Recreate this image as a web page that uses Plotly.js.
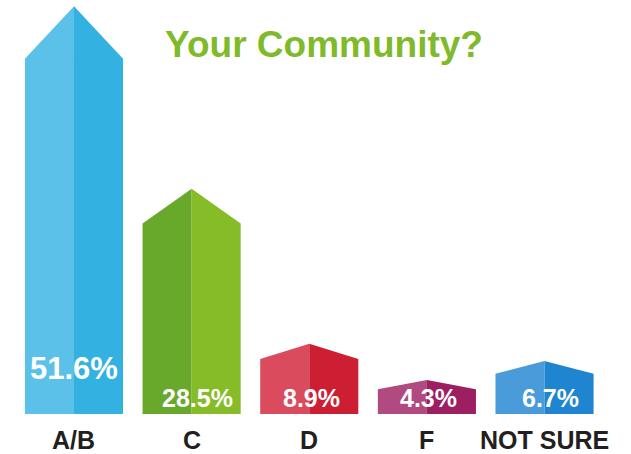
<!DOCTYPE html>
<html>
<head>
<meta charset="utf-8">
<script src="https://cdn.plot.ly/plotly-3.0.1.min.js"></script>
<style>html,body{margin:0;padding:0;background:#fff}#chart{width:631px;height:454px}</style>
</head>
<body>
<div id="chart"></div>
<script>
// ---- data ----
const categories = ['A/B', 'C', 'D', 'F', 'NOT SURE'];
const values = [51.6, 28.5, 8.9, 4.3, 6.7];
const valueLabels = ['51.6%', '28.5%', '8.9%', '4.3%', '6.7%'];
const leftColors = ['#5bc1e9', '#68a92b', '#d94b5d', '#b04a81', '#4a9bd9'];
const rightColors = ['#33b1e1', '#86bc28', '#cc1f34', '#9c1f61', '#1f85d1'];

// ---- build house-shaped bars ----
const hw = 0.417;
const traces = [];
values.forEach((v, i) => {
  const roof = 0.42 * Math.pow(v, 0.7);
  const sh = v - roof;
  traces.push({
    type: 'scatter', mode: 'lines', fill: 'toself', hoverinfo: 'skip',
    x: [i - hw, i - hw, i, i, i - hw],
    y: [0, sh, v, 0, 0],
    fillcolor: leftColors[i], line: {width: 0, color: leftColors[i]}
  });
  traces.push({
    type: 'scatter', mode: 'lines', fill: 'toself', hoverinfo: 'skip',
    x: [i, i, i + hw, i + hw, i],
    y: [0, v, sh, 0, 0],
    fillcolor: rightColors[i], line: {width: 0, color: rightColors[i]}
  });
});

const annotations = [];
values.forEach((v, i) => {
  const big = v > 40;
  annotations.push({
    x: i, y: 0, xref: 'x', yref: 'y', showarrow: false,
    text: '<b>' + valueLabels[i] + '</b>',
    font: {family: 'Liberation Sans, Arial, sans-serif', size: big ? 31 : 25, color: '#ffffff'},
    yanchor: 'middle', xanchor: 'center',
    yshift: big ? 46 : 16, xshift: i === 0 ? 0 : (i === 2 || i === 3 ? 2 : 6)
  });
  annotations.push({
    x: i, y: 0, xref: 'x', yref: 'y', showarrow: false,
    text: '<b>' + categories[i] + '</b>',
    font: {family: 'Liberation Sans, Arial, sans-serif', size: 25, color: '#231f20'},
    yanchor: 'middle', xanchor: 'center', yshift: -26
  });
});

const layout = {
  width: 631, height: 454,
  margin: {l: 0, r: 0, t: 0, b: 40},
  paper_bgcolor: '#ffffff', plot_bgcolor: '#ffffff',
  showlegend: false,
  title: {
    text: '<b>Your Community?</b>',
    font: {family: 'Liberation Sans, Arial, sans-serif', size: 37, color: '#7fba2a'},
    x: 324 / 631, xanchor: 'center', xref: 'container',
    y: 1 - 44 / 454, yanchor: 'middle', yref: 'container'
  },
  xaxis: {range: [-0.629, 4.735], visible: false, fixedrange: true},
  yaxis: {range: [0, 52.4], visible: false, fixedrange: true},
  annotations: annotations
};

Plotly.newPlot('chart', traces, layout, {displayModeBar: false, staticPlot: true});
</script>
</body>
</html>
